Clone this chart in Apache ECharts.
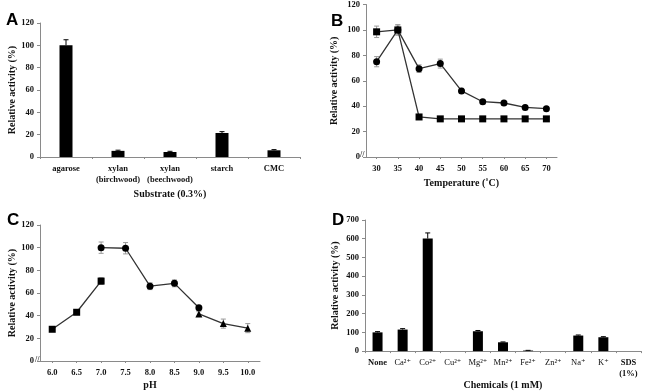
<!DOCTYPE html>
<html>
<head>
<meta charset="utf-8">
<script src="https://cdn.jsdelivr.net/npm/echarts@6/dist/echarts.min.js"></script>
<style>
  html, body { margin: 0; padding: 0; background: #fff; }
  #chart { width: 658px; height: 391px; }
</style>
</head>
<body>
<div id="chart"></div>
<script>
// panel A - substrate specificity
const substrates = ['agarose', 'xylan\n(birchwood)', 'xylan\n(beechwood)', 'starch', 'CMC'];
const substrateActivity = [100, 5.5, 4.5, 21.5, 6];
const substrateErr = [5, 0.6, 0.6, 1.2, 0.6];

// panel B - temperature
const temps = ['30', '35', '40', '45', '50', '55', '60', '65', '70'];
const tempSquare = [98.5, 100, 31.5, 30, 30, 30, 30, 30, 30];
const tempSquareErr = [4.5, 4, 1, 0.8, 0.8, 0.8, 0.8, 0.8, 0.8];
const tempCircle = [75, 100, 69.5, 73.5, 52, 43.5, 42.5, 39, 38];
const tempCircleErr = [4, 4, 3, 3.5, 2, 1.5, 1.5, 1.5, 1.5];

// panel C - pH
const phs = ['6.0', '6.5', '7.0', '7.5', '8.0', '8.5', '9.0', '9.5', '10.0'];
const phSquare = [28, 43, 70.5, null, null, null, null, null, null];
const phSquareErr = [1, 1, 3, 0, 0, 0, 0, 0, 0];
const phCircle = [null, null, 100, 99.5, 66, 68.5, 47, null, null];
const phCircleErr = [0, 0, 5, 5, 3, 3, 2, 0, 0];
const phTriangle = [null, null, null, null, null, null, 41.5, 33, 29];
const phTriangleErr = [0, 0, 0, 0, 0, 0, 2, 4, 4];

// panel D - chemicals
const chemicals = ['None', 'Ca²⁺', 'Co²⁺', 'Cu²⁺', 'Mg²⁺', 'Mn²⁺', 'Fe²⁺', 'Zn²⁺', 'Na⁺', 'K⁺', 'SDS\n(1%)'];
const chemActivity = [100, 115, 601, 0, 106, 47, 3, 0, 83, 74, 0];
const chemErr = [4, 5, 30, 0, 4, 2, 1, 0, 3, 3, 0];

const serif = "'Liberation Serif', 'DejaVu Serif', serif";
const axisGrey = '#8a8a8a';

function errorBars(idx, values, errs, color, upOnly) {
  const data = [];
  values.forEach((v, i) => {
    if (v != null && errs[i] > 0) data.push([i, v, errs[i]]);
  });
  return {
    type: 'custom', xAxisIndex: idx, yAxisIndex: idx, z: 5,
    data: data,
    renderItem: function (params, api) {
      const x = api.value(0), v = api.value(1), e = api.value(2);
      const top = api.coord([x, v + e]);
      const bot = api.coord([x, upOnly ? v : v - e]);
      const w = 2.5;
      const st = { stroke: color, lineWidth: 1 };
      const kids = [
        { type: 'line', shape: { x1: top[0], y1: top[1], x2: bot[0], y2: bot[1] }, style: st },
        { type: 'line', shape: { x1: top[0] - w, y1: top[1], x2: top[0] + w, y2: top[1] }, style: st }
      ];
      if (!upOnly) kids.push({ type: 'line', shape: { x1: bot[0] - w, y1: bot[1], x2: bot[0] + w, y2: bot[1] }, style: st });
      return { type: 'group', children: kids };
    }
  };
}

function yAxis(idx, max, interval, gap) {
  return {
    type: 'value', gridIndex: idx, min: 0, max: max, interval: interval,
    name: 'Relative activity (%)', nameLocation: 'middle', nameGap: gap,
    nameTextStyle: { fontFamily: serif, fontWeight: 'bold', fontSize: 10, color: '#111' },
    axisLine: { show: true, lineStyle: { color: axisGrey, width: 1 } },
    axisTick: { show: true, length: 3, lineStyle: { color: axisGrey } },
    axisLabel: { fontFamily: serif, fontWeight: 'bold', fontSize: 8.5, color: '#111', margin: 6 },
    splitLine: { show: false }
  };
}

function xAxis(idx, labels, name, gap, onTick) {
  return {
    type: 'category', gridIndex: idx, data: labels,
    name: name, nameLocation: 'middle', nameGap: gap,
    nameTextStyle: { fontFamily: serif, fontWeight: 'bold', fontSize: 10, color: '#111' },
    axisLine: { show: true, lineStyle: { color: axisGrey, width: 1 } },
    axisTick: { show: true, length: 2, alignWithLabel: onTick, lineStyle: { color: axisGrey } },
    axisLabel: { interval: 0, fontFamily: serif, fontWeight: 'bold', fontSize: 8.5, color: '#111', margin: 6, lineHeight: 11 },
    splitLine: { show: false }
  };
}

const chemAxis = xAxis(3, chemicals, 'Chemicals (1 mM)', 22, false);
chemAxis.axisLabel.fontWeight = 'normal';
chemAxis.axisLabel.formatter = function (v) {
  if (v === 'None' || v.indexOf('SDS') === 0) return '{b|' + v.replace('\n', '}\n{b|') + '}';
  return v;
};
chemAxis.axisLabel.rich = { b: { fontFamily: serif, fontWeight: 'bold', fontSize: 8.5, color: '#111', lineHeight: 11 } };

function lineSeries(idx, values, symbol, size) {
  return {
    type: 'line', xAxisIndex: idx, yAxisIndex: idx, data: values,
    symbol: symbol, symbolSize: size, z: 6,
    lineStyle: { color: '#333', width: 1.3 },
    itemStyle: { color: '#000' }
  };
}

const option = {
  animation: false,
  backgroundColor: '#fff',
  title: [
    { text: 'A', left: 1, top: 7 },
    { text: 'B', left: 326, top: 8 },
    { text: 'C', left: 2, top: 207 },
    { text: 'D', left: 327, top: 207 }
  ].map(t => Object.assign(t, { textStyle: { fontFamily: "'Liberation Sans', Arial, sans-serif", fontWeight: 'bold', fontSize: 17, color: '#000' } })),
  grid: [
    { left: 40, top: 23, width: 260, height: 134 },
    { left: 366, top: 3, width: 191, height: 154 },
    { left: 40, top: 225, width: 220, height: 137 },
    { left: 365, top: 220, width: 276, height: 142 }
  ],
  xAxis: [
    xAxis(0, substrates, 'Substrate (0.3%)', 32, false),
    xAxis(1, temps, 'Temperature (˚C)', 21, true),
    xAxis(2, phs, 'pH', 19, true),
    chemAxis
  ],
  yAxis: [
    yAxis(0, 120, 20, 19),
    yAxis(1, 120, 20, 27),
    yAxis(2, 120, 20, 21),
    yAxis(3, 700, 100, 25)
  ],
  graphic: [
    { type: 'text', left: 360, top: 151, style: { text: '//', font: 'bold 8px ' + serif, fill: '#333' } },
    { type: 'text', left: 35, top: 356, style: { text: '//', font: 'bold 8px ' + serif, fill: '#333' } }
  ],
  series: [
    { type: 'bar', xAxisIndex: 0, yAxisIndex: 0, data: substrateActivity, barWidth: 13, itemStyle: { color: '#000' } },
    errorBars(0, substrateActivity, substrateErr, '#000', true),

    lineSeries(1, tempCircle, 'circle', 7),
    lineSeries(1, tempSquare, 'rect', 7),
    errorBars(1, tempCircle, tempCircleErr, '#999', false),
    errorBars(1, tempSquare, tempSquareErr, '#999', false),

    lineSeries(2, phSquare, 'rect', 7),
    lineSeries(2, phCircle, 'circle', 7),
    lineSeries(2, phTriangle, 'triangle', 7),
    errorBars(2, phSquare, phSquareErr, '#999', false),
    errorBars(2, phCircle, phCircleErr, '#999', false),
    errorBars(2, phTriangle, phTriangleErr, '#999', false),

    { type: 'bar', xAxisIndex: 3, yAxisIndex: 3, data: chemActivity, barWidth: 10, itemStyle: { color: '#000' } },
    errorBars(3, chemActivity, chemErr, '#000', true)
  ]
};

const chart = echarts.init(document.getElementById('chart'));
chart.setOption(option);
</script>
</body>
</html>
